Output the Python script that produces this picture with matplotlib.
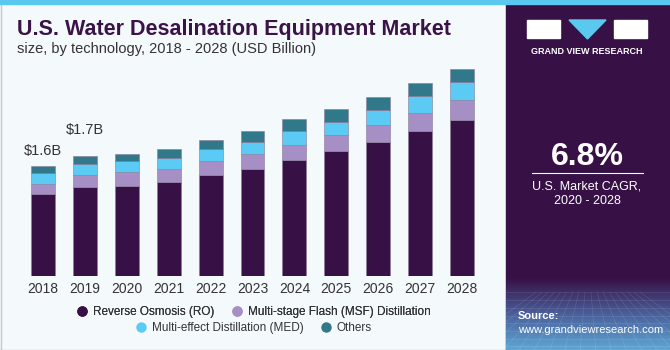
import numpy as np
import matplotlib.pyplot as plt
from matplotlib.patches import Rectangle, Polygon
from matplotlib.lines import Line2D
from matplotlib.colors import LinearSegmentedColormap

# market size by technology, USD billion
years = ['2018', '2019', '2020', '2021', '2022', '2023', '2024', '2025', '2026', '2027', '2028']
ro = [1.20, 1.30, 1.31, 1.37, 1.47, 1.56, 1.69, 1.82, 1.95, 2.11, 2.27]
msf = [0.145, 0.175, 0.198, 0.185, 0.198, 0.218, 0.214, 0.228, 0.243, 0.262, 0.291]
med = [0.160, 0.156, 0.160, 0.160, 0.175, 0.175, 0.208, 0.193, 0.228, 0.253, 0.256]
others = [0.092, 0.111, 0.112, 0.127, 0.131, 0.160, 0.166, 0.185, 0.183, 0.189, 0.195]

series = ['Reverse Osmosis (RO)', 'Multi-stage Flash (MSF) Distillation',
          'Multi-effect Distillation (MED)', 'Others']
colors = ['#371046', '#a68fc4', '#5bcbf5', '#31788a']
labels = {'2018': ('$1.6B', 0.12), '2019': ('$1.7B', 0.28)}

W, H = 670, 350
fig = plt.figure(figsize=(W / 100, H / 100), dpi=100)
fig.patch.set_facecolor('#f4f9fc')
plt.rcParams['font.family'] = ['Liberation Sans', 'DejaVu Sans']


def fx(x):
    return x / W


def fy(y):
    return 1 - y / H


# chart area
ax = fig.add_axes([fx(11.6), fy(276), fx(481.8), 216 / H])
ax.set_facecolor('none')
x = np.arange(len(years))
bottom = np.zeros(len(years))
for vals, c in zip([ro, msf, med, others], colors):
    ax.bar(x, vals, width=0.57, bottom=bottom, color=c, edgecolor='#8a7a9a', linewidth=0.4)
    bottom += np.array(vals)
ax.set_xlim(-0.75, len(years) - 0.25)
ax.set_ylim(0, 216 / 68.75)
ax.set_xticks(x)
ax.set_xticklabels(years, fontsize=10, color='#333333')
ax.tick_params(axis='x', length=0, pad=4)
ax.set_yticks([])
for s in ax.spines.values():
    s.set_visible(False)
for i, y in enumerate(years):
    if y in labels:
        txt, off = labels[y]
        ax.text(i, bottom[i] + off, txt, ha='center', va='bottom',
                fontsize=10.5, color='#333333')

# titles
fig.text(fx(17), fy(29), 'U.S. Water Desalination Equipment Market', fontsize=15.5,
         fontweight='bold', color='#3a1446', va='center')
fig.text(fx(17), fy(49), 'size, by technology, 2018 - 2028 (USD Billion)', fontsize=10.5,
         color='#333333', va='center')

# legend rows
handles = [Line2D([], [], marker='o', linestyle='none', markersize=6.5, color=c) for c in colors]
leg_kw = dict(loc='center', ncol=2, frameon=False, fontsize=8.5, handlelength=0.8,
              handletextpad=0.5, columnspacing=1.5)
leg1 = fig.legend(handles[:2], series[:2], bbox_to_anchor=(fx(254), fy(312)), **leg_kw)
for t in leg1.get_texts():
    t.set_color('#333333')
fig.add_artist(leg1)
leg2 = fig.legend(handles[2:], series[2:], bbox_to_anchor=(fx(254), fy(328)), **leg_kw)
for t in leg2.get_texts():
    t.set_color('#333333')

# top stripe and borders
fig.add_artist(Rectangle((0, fy(4)), 1, 4 / H, transform=fig.transFigure,
                         color='#5bc8f0', zorder=5))
fig.add_artist(Line2D([fx(0.5), fx(0.5)], [0, fy(4)], transform=fig.transFigure,
                      color='#c8c8c8', linewidth=1))
fig.add_artist(Line2D([0, 1], [0.5 / H, 0.5 / H], transform=fig.transFigure,
                      color='#c8c8c8', linewidth=1))

# right panel
fig.add_artist(Rectangle((fx(506), 0), fx(164), fy(4), transform=fig.transFigure,
                         color='#371146', zorder=2))
grad = np.linspace(0, 1, 100)[:, None]
pax = fig.add_axes([fx(506), 0, fx(164), 72 / H], zorder=3)
cmap = LinearSegmentedColormap.from_list('g', ['#5fa6d4', '#4a5f9a', '#371146'])
pax.imshow(grad, aspect='auto', cmap=cmap, origin='lower', extent=[0, 1, 0, 1])
for k in np.linspace(-0.3, 1.3, 18):
    pax.plot([k, 0.5 + (k - 0.5) * 0.4], [0, 0.8], color='white', alpha=0.12, linewidth=0.5)
for k in np.linspace(0.05, 0.8, 8):
    pax.plot([0, 1], [k, k], color='white', alpha=0.12, linewidth=0.5)
pax.set_xlim(0, 1)
pax.set_ylim(0, 1)
pax.axis('off')

# logo
fig.add_artist(Rectangle((fx(527), fy(38)), fx(33), 18 / H, transform=fig.transFigure,
                         color='white', zorder=4))
fig.add_artist(Polygon([(fx(569), fy(20)), (fx(606), fy(20)), (fx(587.5), fy(39))],
                       transform=fig.transFigure, color='#5bc8f0', zorder=4))
fig.add_artist(Rectangle((fx(614), fy(38)), fx(33), 18 / H, transform=fig.transFigure,
                         color='white', zorder=4))
fig.text(fx(587), fy(51), 'GRAND VIEW RESEARCH', fontsize=6.5, fontweight='bold',
         color='white', ha='center', va='center', zorder=6)

fig.text(fx(587), fy(157), '6.8%', fontsize=23, fontweight='bold', color='white',
         ha='center', va='center', zorder=6)
fig.add_artist(Line2D([fx(532), fx(643)], [fy(173), fy(173)], transform=fig.transFigure,
                      color='white', linewidth=0.8, zorder=6))
fig.text(fx(587), fy(186), 'U.S. Market CAGR,', fontsize=9, color='white',
         ha='center', va='center', zorder=6)
fig.text(fx(587), fy(201), '2020 - 2028', fontsize=9, color='white',
         ha='center', va='center', zorder=6)
fig.text(fx(518), fy(316), 'Source:', fontsize=8, fontweight='bold', color='white',
         va='center', zorder=6)
fig.text(fx(518), fy(330), 'www.grandviewresearch.com', fontsize=8, color='white',
         va='center', zorder=6)

fig.savefig('out.png', dpi=100, facecolor=fig.get_facecolor())
